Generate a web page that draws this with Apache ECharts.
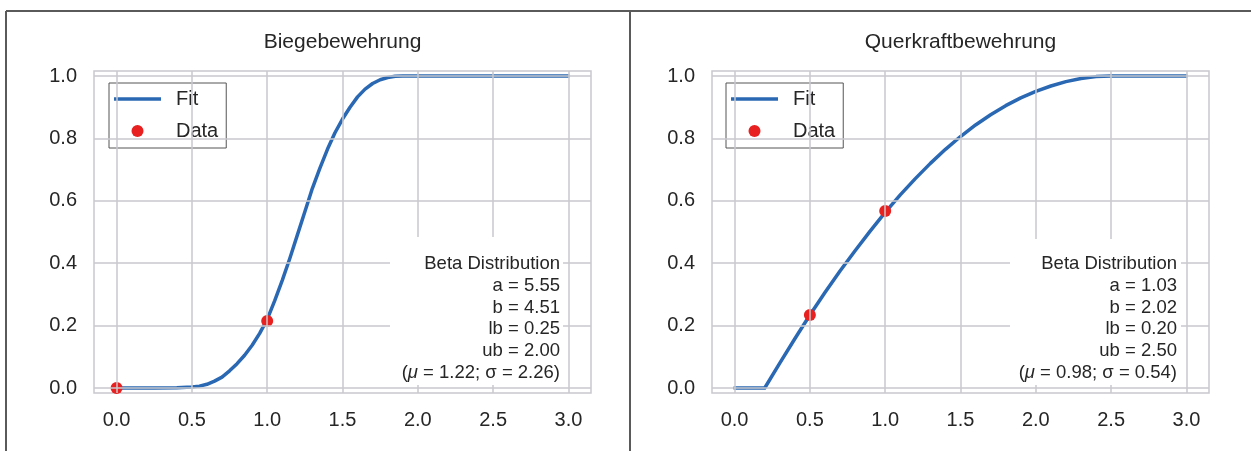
<!DOCTYPE html>
<html><head><meta charset="utf-8">
<script src="https://cdn.jsdelivr.net/npm/echarts@6/dist/echarts.min.js"></script>
<style>html,body{margin:0;padding:0;background:#fff}#c{width:1251px;height:451px}</style>
</head><body><div id="c"></div>
<script>
// ---- data ----
const xTicks = [0, 0.5, 1.0, 1.5, 2.0, 2.5, 3.0];
const yTicks = [0, 0.2, 0.4, 0.6, 0.8, 1.0];
const titles = ['Biegebewehrung', 'Querkraftbewehrung'];
const legendNames = ['Fit', 'Data'];

const fitLeftX = [0, 0.25, 0.4, 0.5, 0.55, 0.6, 0.65, 0.7, 0.75, 0.8, 0.85, 0.9, 0.95, 1.0, 1.05, 1.1, 1.15, 1.2, 1.25, 1.3, 1.35, 1.4, 1.45, 1.5, 1.55, 1.6, 1.65, 1.7, 1.75, 1.8, 1.85, 1.9, 2.0, 3.0];
const fitLeftY = [0, 0, 0.0005, 0.003, 0.006, 0.012, 0.022, 0.035, 0.055, 0.078, 0.105, 0.137, 0.175, 0.22, 0.28, 0.345, 0.415, 0.49, 0.565, 0.64, 0.705, 0.765, 0.818, 0.862, 0.9, 0.933, 0.958, 0.976, 0.988, 0.995, 0.999, 1.0, 1.0, 1.0];
const dataLeftX = [0.0, 1.0];
const dataLeftY = [0.0, 0.215];

const fitRightX = [0, 0.2, 0.3, 0.4, 0.5, 0.6, 0.7, 0.8, 0.9, 1.0, 1.1, 1.2, 1.3, 1.4, 1.5, 1.6, 1.7, 1.8, 1.9, 2.0, 2.1, 2.2, 2.3, 2.4, 2.5, 3.0];
const fitRightY = [0, 0, 0.08, 0.158, 0.234, 0.306, 0.375, 0.44, 0.503, 0.563, 0.619, 0.671, 0.72, 0.765, 0.806, 0.843, 0.876, 0.905, 0.93, 0.951, 0.968, 0.982, 0.992, 0.998, 1.0, 1.0];
const dataRightX = [0.5, 1.0];
const dataRightY = [0.234, 0.567];

// Beta parameters: a, b, lb, ub, mu, sigma
const betaLeft = [5.55, 4.51, 0.25, 2.00, 1.22, 2.26];
const betaRight = [1.03, 2.02, 0.20, 2.50, 0.98, 0.54];

// ---- styles ----
const FONT = 'Liberation Sans, Arial, sans-serif';
const GRIDC = '#c9c9ce';
const BLUE = '#2a68b3';
const RED = '#e8201f';
const TXT = '#262626';

const zip = (xs, ys) => xs.map((x, i) => [x, ys[i]]);
const f2 = v => v.toFixed(2);
function annot(p) {
  return ['Beta Distribution', 'a = ' + f2(p[0]), 'b = ' + f2(p[1]), 'lb = ' + f2(p[2]), 'ub = ' + f2(p[3]),
    '({i|μ} = ' + f2(p[4]) + '; σ = ' + f2(p[5]) + ')'].join('\n');
}

const panels = [
  {left: 94, fitX: fitLeftX, fitY: fitLeftY, dX: dataLeftX, dY: dataLeftY, beta: betaLeft, legLeft: 109, box: [390, 237, 173, 148], txtX: 560},
  {left: 712, fitX: fitRightX, fitY: fitRightY, dX: dataRightX, dY: dataRightY, beta: betaRight, legLeft: 726, box: [1010, 239, 171, 146], txtX: 1177}
];
const W = 497, H = 322, TOP = 71;

const option = {
  animation: false,
  backgroundColor: '#fff',
  grid: panels.map(p => ({left: p.left, top: TOP, width: W, height: H, show: true, borderColor: GRIDC, borderWidth: 1.5, backgroundColor: 'transparent', containLabel: false})),
  xAxis: panels.map((p, i) => ({
    type: 'value', gridIndex: i, min: -0.15, max: 3.15,
    axisLine: {show: false}, axisTick: {show: false, customValues: xTicks}, splitLine: {show: false},
    axisLabel: {customValues: xTicks, formatter: v => v.toFixed(1), fontSize: 20, color: TXT, fontFamily: FONT, margin: 17}
  })),
  yAxis: panels.map((p, i) => ({
    type: 'value', gridIndex: i, min: -0.016, max: 1.016,
    axisLine: {show: false}, axisTick: {show: false, customValues: yTicks}, splitLine: {show: false},
    axisLabel: {customValues: yTicks, formatter: v => v.toFixed(1), fontSize: 20, color: TXT, fontFamily: FONT, margin: 17}
  })),
  legend: panels.map(p => ({
    data: [{name: legendNames[0], icon: 'path://M0,0H47V3.5H0Z'}, {name: legendNames[1]}],
    orient: 'vertical', left: p.legLeft, top: 83,
    backgroundColor: '#fff', borderColor: '#555', borderWidth: 1, borderRadius: 0,
    padding: [5, 8, 6, 5], itemGap: 10, itemWidth: 47, itemHeight: 12,
    textStyle: {fontSize: 20, color: TXT, fontFamily: FONT, lineHeight: 22, padding: [0, 0, 0, 10]}, selectedMode: false
  })),
  series: [],
  graphic: []
};

panels.forEach((p, i) => {
  option.series.push({
    type: 'line', name: '_grid' + i, xAxisIndex: i, yAxisIndex: i, data: [], z: 1, silent: true,
    markLine: {
      silent: true, symbol: 'none', label: {show: false}, animation: false,
      lineStyle: {color: GRIDC, width: 1.5, type: 'solid'},
      data: xTicks.map(v => ({xAxis: v})).concat(yTicks.map(v => ({yAxis: v})))
    }
  });
  option.series.push({
    type: 'line', name: 'Fit', xAxisIndex: i, yAxisIndex: i, data: zip(p.fitX, p.fitY),
    symbol: 'none', smooth: false, z: 3,
    lineStyle: {color: BLUE, width: 3.5, cap: 'round', join: 'round'}, itemStyle: {color: BLUE}
  });
  option.series.push({
    type: 'scatter', name: 'Data', xAxisIndex: i, yAxisIndex: i, data: zip(p.dX, p.dY),
    symbol: 'circle', symbolSize: 12, z: 4, itemStyle: {color: RED, opacity: 1}
  });
  option.graphic.push({
    type: 'text', z: 50, style: {text: titles[i], x: p.left + W / 2, y: 42, align: 'center', verticalAlign: 'middle',
      fontSize: 21, fontFamily: FONT, fill: TXT}
  });
  option.graphic.push({
    type: 'rect', z: 40, shape: {x: p.box[0], y: p.box[1], width: p.box[2], height: p.box[3]}, style: {fill: '#fff'}
  });
  option.graphic.push({
    type: 'text', z: 50, style: {text: annot(p.beta), x: p.txtX, y: 253, align: 'right', verticalAlign: 'top',
      fontSize: 18.5, fontFamily: FONT, fill: TXT, lineHeight: 21.8,
      rich: {i: {fontStyle: 'italic', fontSize: 18.5, fontFamily: FONT, fill: TXT, lineHeight: 21.8}}}
  });
});

// outer frame lines
option.graphic.push({type: 'line', z: 60, shape: {x1: 6, y1: 11, x2: 1251, y2: 11}, style: {stroke: '#5a5a5a', lineWidth: 2}});
option.graphic.push({type: 'line', z: 60, shape: {x1: 6, y1: 11, x2: 6, y2: 451}, style: {stroke: '#5a5a5a', lineWidth: 2}});
option.graphic.push({type: 'line', z: 60, shape: {x1: 630, y1: 11, x2: 630, y2: 451}, style: {stroke: '#5a5a5a', lineWidth: 2}});

const chart = echarts.init(document.getElementById('c'), null, {renderer: 'canvas'});
chart.setOption(option);
</script></body></html>
